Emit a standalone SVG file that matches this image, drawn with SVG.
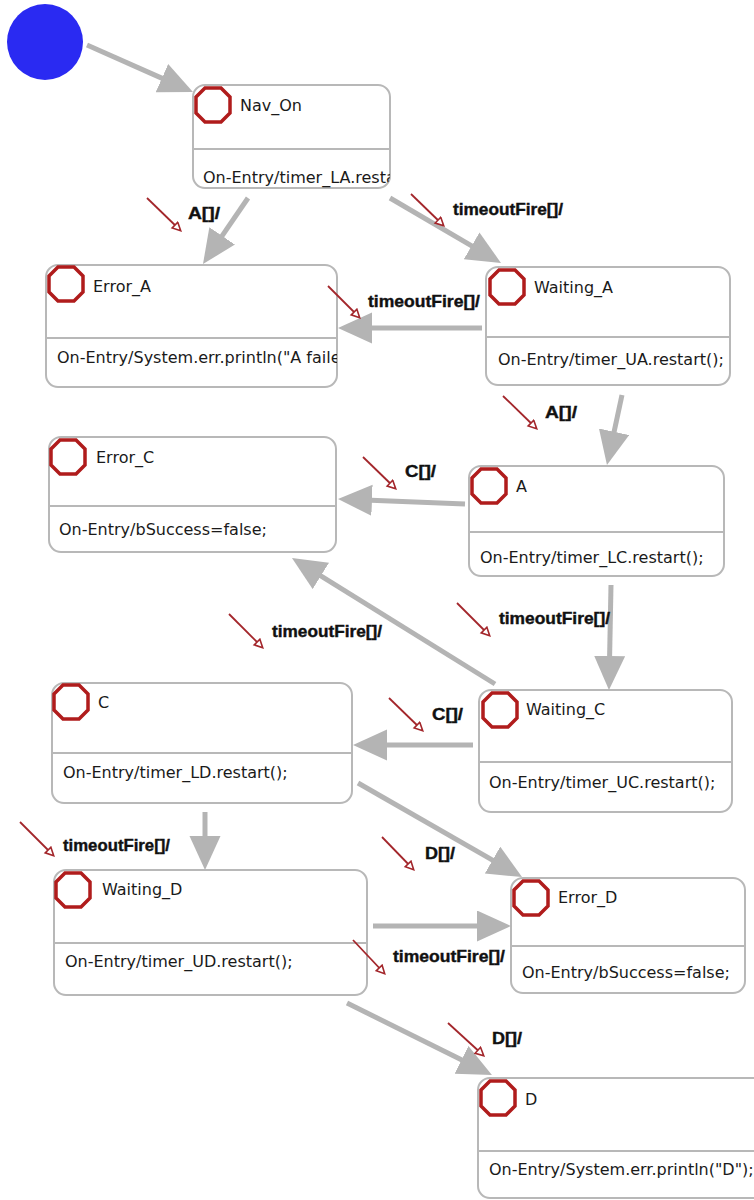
<svg xmlns="http://www.w3.org/2000/svg" xmlns:xlink="http://www.w3.org/1999/xlink" width="754" height="1200" viewBox="0 0 754 1200">
  <style>
    .box { fill: #ffffff; stroke: #b8b8b8; stroke-width: 2; }
    .div { stroke: #b8b8b8; stroke-width: 2; }
    .oct { fill: #ffffff; stroke: #b01c1c; stroke-width: 3.5; stroke-linejoin: miter; }
    .title, .entry { font-family: "DejaVu Sans", Verdana, sans-serif; font-size: 16px; fill: #1a1a1a; }
    .edge { fill: none; stroke: #b4b4b4; stroke-width: 5; marker-end: url(#head); }
    .cue { fill: none; stroke: #a3262b; stroke-width: 1.8; marker-end: url(#cuehead); }
    .lbl { font-family: "Liberation Sans", Arial, sans-serif; font-weight: bold; font-size: 16.5px; fill: #111111; stroke: #111111; stroke-width: 0.4; }
  </style>
  <defs>
    <polygon id="oct" class="oct" points="11,2 27,2 36,11 36,27 27,36 11,36 2,27 2,11"/>
    <marker id="head" markerUnits="userSpaceOnUse" markerWidth="36" markerHeight="32" refX="1" refY="15.5" orient="auto">
      <path d="M0,0 L34,15.5 L0,31 z" fill="#b4b4b4"/>
    </marker>
    <marker id="cuehead" markerUnits="userSpaceOnUse" markerWidth="12" markerHeight="12" refX="8" refY="5" orient="auto">
      <path d="M1,1 L9,5 L1,9 z" fill="#ffffff" stroke="#a3262b" stroke-width="1.6"/>
    </marker>
    <clipPath id="clipNavOn"><rect x="193" y="85" width="197" height="103" rx="12"/></clipPath>
    <clipPath id="clipErrorA"><rect x="46" y="265" width="291" height="122" rx="12"/></clipPath>
  </defs>

  <rect width="754" height="1200" fill="#ffffff"/>

  <!-- initial pseudo-state -->
  <g id="initial">
    <circle cx="45" cy="42" r="38" fill="#2a2af2"/>
  </g>

  <!-- states -->
  <g id="Nav_On">
    <rect class="box" x="193" y="85" width="197" height="103" rx="12"/>
    <line class="div" x1="193" y1="149" x2="390" y2="149"/>
    <use xlink:href="#oct" x="194" y="86"/>
    <text class="title" x="240" y="111">Nav_On</text>
    <text class="entry" x="203" y="183" clip-path="url(#clipNavOn)">On-Entry/timer_LA.restart();</text>
  </g>

  <g id="Error_A">
    <rect class="box" x="46" y="265" width="291" height="122" rx="12"/>
    <line class="div" x1="46" y1="338" x2="337" y2="338"/>
    <use xlink:href="#oct" x="47" y="265"/>
    <text class="title" x="93" y="292">Error_A</text>
    <text class="entry" x="57" y="363" clip-path="url(#clipErrorA)">On-Entry/System.err.println("A failed");</text>
  </g>

  <g id="Waiting_A">
    <rect class="box" x="486" y="267" width="244" height="118" rx="12"/>
    <line class="div" x1="486" y1="337" x2="730" y2="337"/>
    <use xlink:href="#oct" x="488" y="268"/>
    <text class="title" x="534" y="293">Waiting_A</text>
    <text class="entry" x="498" y="365">On-Entry/timer_UA.restart();</text>
  </g>

  <g id="Error_C">
    <rect class="box" x="49" y="437" width="287" height="115" rx="12"/>
    <line class="div" x1="49" y1="506" x2="336" y2="506"/>
    <use xlink:href="#oct" x="49" y="438"/>
    <text class="title" x="96" y="463">Error_C</text>
    <text class="entry" x="59" y="535">On-Entry/bSuccess=false;</text>
  </g>

  <g id="A">
    <rect class="box" x="469" y="466" width="255" height="110" rx="12"/>
    <line class="div" x1="469" y1="532" x2="724" y2="532"/>
    <use xlink:href="#oct" x="470" y="467"/>
    <text class="title" x="516" y="492">A</text>
    <text class="entry" x="480" y="563">On-Entry/timer_LC.restart();</text>
  </g>

  <g id="C">
    <rect class="box" x="52" y="683" width="300" height="120" rx="12"/>
    <line class="div" x1="52" y1="753" x2="352" y2="753"/>
    <use xlink:href="#oct" x="52" y="683"/>
    <text class="title" x="98" y="708">C</text>
    <text class="entry" x="63" y="778">On-Entry/timer_LD.restart();</text>
  </g>

  <g id="Waiting_C">
    <rect class="box" x="479" y="690" width="253" height="122" rx="12"/>
    <line class="div" x1="479" y1="762" x2="732" y2="762"/>
    <use xlink:href="#oct" x="481" y="691"/>
    <text class="title" x="526" y="715">Waiting_C</text>
    <text class="entry" x="489" y="788">On-Entry/timer_UC.restart();</text>
  </g>

  <g id="Waiting_D">
    <rect class="box" x="54" y="870" width="313" height="125" rx="12"/>
    <line class="div" x1="54" y1="943" x2="367" y2="943"/>
    <use xlink:href="#oct" x="54" y="871"/>
    <text class="title" x="102" y="895">Waiting_D</text>
    <text class="entry" x="65" y="967">On-Entry/timer_UD.restart();</text>
  </g>

  <g id="Error_D">
    <rect class="box" x="511" y="878" width="234" height="115" rx="12"/>
    <line class="div" x1="511" y1="946" x2="745" y2="946"/>
    <use xlink:href="#oct" x="512" y="879"/>
    <text class="title" x="558" y="903">Error_D</text>
    <text class="entry" x="522" y="978">On-Entry/bSuccess=false;</text>
  </g>

  <g id="D">
    <rect class="box" x="478" y="1078" width="300" height="120" rx="12"/>
    <line class="div" x1="478" y1="1151" x2="778" y2="1151"/>
    <use xlink:href="#oct" x="479" y="1079"/>
    <text class="title" x="525" y="1105">D</text>
    <text class="entry" x="489" y="1175">On-Entry/System.err.println("D");</text>
  </g>

  <!-- transitions -->
  <g id="connectors">
    <line class="edge" x1="87" y1="45" x2="162.8" y2="78.6"/>

    <line class="edge" x1="248" y1="198" x2="221.6" y2="236.7"/>
    <line class="cue" x1="147" y1="198" x2="180" y2="230"/>
    <text class="lbl" x="188" y="219" textLength="32" lengthAdjust="spacingAndGlyphs">A[]/</text>

    <line class="edge" x1="390" y1="198" x2="472.5" y2="246.3"/>
    <line class="cue" x1="411" y1="194" x2="443" y2="225"/>
    <text class="lbl" x="453" y="215" textLength="110" lengthAdjust="spacingAndGlyphs">timeoutFire[]/</text>

    <line class="edge" x1="482" y1="328" x2="371" y2="328"/>
    <line class="cue" x1="328" y1="286" x2="359" y2="317"/>
    <text class="lbl" x="368" y="307" textLength="112" lengthAdjust="spacingAndGlyphs">timeoutFire[]/</text>

    <line class="edge" x1="622" y1="395" x2="613.9" y2="432.7"/>
    <line class="cue" x1="503" y1="396" x2="536" y2="428"/>
    <text class="lbl" x="545" y="418" textLength="32" lengthAdjust="spacingAndGlyphs">A[]/</text>

    <line class="edge" x1="465" y1="504" x2="371" y2="500.3"/>
    <line class="cue" x1="363" y1="457" x2="395" y2="488"/>
    <text class="lbl" x="405" y="477" textLength="31" lengthAdjust="spacingAndGlyphs">C[]/</text>

    <line class="edge" x1="611" y1="585" x2="609.6" y2="657"/>
    <line class="cue" x1="457" y1="603" x2="489" y2="635"/>
    <text class="lbl" x="499" y="624" textLength="111" lengthAdjust="spacingAndGlyphs">timeoutFire[]/</text>

    <line class="edge" x1="495" y1="684" x2="320" y2="575.4"/>
    <line class="cue" x1="229" y1="614" x2="262" y2="647"/>
    <text class="lbl" x="272" y="637" textLength="110" lengthAdjust="spacingAndGlyphs">timeoutFire[]/</text>

    <line class="edge" x1="473" y1="745" x2="386" y2="745"/>
    <line class="cue" x1="389" y1="698" x2="422" y2="730"/>
    <text class="lbl" x="432" y="720" textLength="31" lengthAdjust="spacingAndGlyphs">C[]/</text>

    <line class="edge" x1="358" y1="783" x2="493.4" y2="860.6"/>
    <line class="cue" x1="382" y1="837" x2="413" y2="869"/>
    <text class="lbl" x="425" y="859" textLength="30" lengthAdjust="spacingAndGlyphs">D[]/</text>

    <line class="edge" x1="205" y1="812" x2="205" y2="837"/>
    <line class="cue" x1="20" y1="822" x2="53" y2="855"/>
    <text class="lbl" x="63" y="851" textLength="107" lengthAdjust="spacingAndGlyphs">timeoutFire[]/</text>

    <line class="edge" x1="373" y1="926" x2="478" y2="926"/>
    <line class="cue" x1="353" y1="940" x2="384" y2="973"/>
    <text class="lbl" x="393" y="962" textLength="112" lengthAdjust="spacingAndGlyphs">timeoutFire[]/</text>

    <line class="edge" x1="347" y1="1003" x2="462.4" y2="1060.3"/>
    <line class="cue" x1="448" y1="1023" x2="483" y2="1055"/>
    <text class="lbl" x="492" y="1044" textLength="30" lengthAdjust="spacingAndGlyphs">D[]/</text>
  </g>
</svg>
